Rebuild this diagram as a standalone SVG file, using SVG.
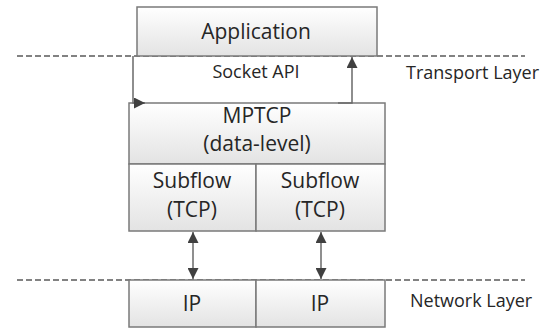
<svg xmlns="http://www.w3.org/2000/svg" width="554" height="328" viewBox="0 0 554 328">
<defs>
<linearGradient id="g" x1="0" y1="0" x2="0" y2="1">
<stop offset="0" stop-color="#ffffff"/>
<stop offset="1" stop-color="#e3e3e3"/>
</linearGradient>
<marker id="ah" viewBox="0 0 10 10" refX="10" refY="5" markerWidth="11" markerHeight="11" markerUnits="userSpaceOnUse" orient="auto-start-reverse">
<path d="M0,0 L10,5 L0,10 z" fill="#404040"/>
</marker>
<style>
.box{fill:url(#g);stroke:#7a7a7a;stroke-width:1.5}
.t{font-family:"Open Sans","Liberation Sans",sans-serif;font-size:21px;fill:#262626;text-anchor:middle}
.s{font-family:"Open Sans","Liberation Sans",sans-serif;font-size:18px;fill:#262626}
.dash{stroke:#5a5a5a;stroke-width:1.5;stroke-dasharray:6 3;fill:none}
.c{stroke:#6a6a6a;stroke-width:1.5;fill:none}
</style>
</defs>
<g id="layers">
<line class="dash" x1="17" y1="56" x2="525" y2="56"/>
<line class="dash" x1="17" y1="280" x2="525" y2="280"/>
<text class="s" x="406" y="79">Transport Layer</text>
<text class="s" x="410" y="307">Network Layer</text>
</g>
<g id="application">
<rect class="box" x="137" y="7" width="240" height="49"/>
<text class="t" x="256" y="39">Application</text>
</g>
<g id="socket-api">
<text class="s" x="256" y="78" text-anchor="middle">Socket API</text>
</g>
<g id="mptcp">
<rect class="box" x="129" y="103" width="256" height="61"/>
<text class="t" x="257" y="123">MPTCP</text>
<text class="t" x="257" y="151">(data-level)</text>
</g>
<g id="subflow1">
<rect class="box" x="129" y="164" width="127" height="67"/>
<text class="t" x="192" y="188">Subflow</text>
<text class="t" x="192" y="217">(TCP)</text>
</g>
<g id="subflow2">
<rect class="box" x="256" y="164" width="129" height="67"/>
<text class="t" x="320" y="188">Subflow</text>
<text class="t" x="320" y="217">(TCP)</text>
</g>
<g id="ip1">
<rect class="box" x="129" y="280" width="127" height="47"/>
<text class="t" x="192" y="311">IP</text>
</g>
<g id="ip2">
<rect class="box" x="256" y="280" width="129" height="47"/>
<text class="t" x="320" y="311">IP</text>
</g>
<g id="connectors">
<path class="c" d="M133 56 V103 H145" marker-end="url(#ah)"/>
<path class="c" d="M338 103 H352 V57" marker-end="url(#ah)"/>
<line class="c" x1="193" y1="232" x2="193" y2="279" marker-start="url(#ah)" marker-end="url(#ah)"/>
<line class="c" x1="321" y1="232" x2="321" y2="279" marker-start="url(#ah)" marker-end="url(#ah)"/>
</g>
</svg>
